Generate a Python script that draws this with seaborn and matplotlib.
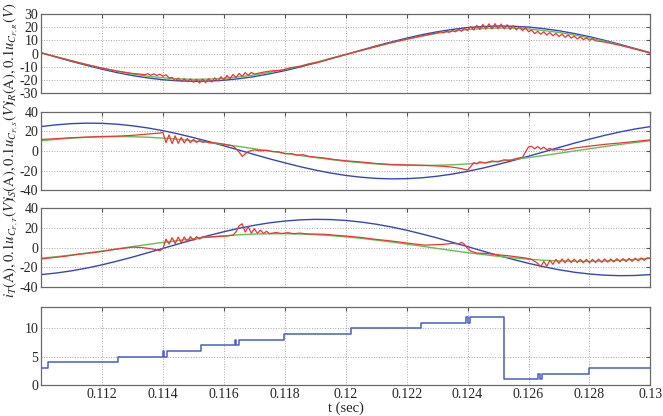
import matplotlib
matplotlib.use("Agg")
import matplotlib.pyplot as plt
import pandas as pd
import seaborn as sns

# smooth curves (blue = current, green = scaled filter voltage), sampled every 0.5 ms
t_ms = [0.1100, 0.1105, 0.1110, 0.1115, 0.1120, 0.1125, 0.1130, 0.1135, 0.1140, 0.1145,
        0.1150, 0.1155, 0.1160, 0.1165, 0.1170, 0.1175, 0.1180, 0.1185, 0.1190, 0.1195,
        0.1200, 0.1205, 0.1210, 0.1215, 0.1220, 0.1225, 0.1230, 0.1235, 0.1240, 0.1245,
        0.1250, 0.1255, 0.1260, 0.1265, 0.1270, 0.1275, 0.1280, 0.1285, 0.1290, 0.1295,
        0.1300]

blue_R = [0.7, -2.6, -5.9, -8.9, -11.8, -14.4, -16.6, -18.4, -19.8, -20.6, -21.0, -20.8,
          -20.2, -19.0, -17.4, -15.3, -12.9, -10.1, -7.1, -3.9, -0.7, 2.6, 5.9, 8.9, 11.8,
          14.4, 16.6, 18.4, 19.8, 20.6, 21.0, 20.8, 20.2, 19.0, 17.4, 15.3, 12.9, 10.1, 7.1,
          3.9, 0.7]
green_R = [0.6, -2.4, -5.4, -8.3, -11.0, -13.4, -15.4, -17.1, -18.3, -19.1, -19.5, -19.3,
           -18.7, -17.6, -16.1, -14.2, -12.0, -9.4, -6.6, -3.6, -0.6, 2.4, 5.4, 8.3, 11.0,
           13.4, 15.4, 17.1, 18.3, 19.1, 19.5, 19.3, 18.7, 17.6, 16.1, 14.2, 12.0, 9.4, 6.6,
           3.6, 0.6]

blue_S = [25.0, 26.8, 28.0, 28.5, 28.3, 27.4, 25.8, 23.6, 20.8, 17.5, 13.7, 9.7, 5.3, 0.9,
          -3.6, -8.0, -12.1, -16.0, -19.5, -22.5, -25.0, -26.8, -28.0, -28.5, -28.3, -27.4,
          -25.8, -23.6, -20.8, -17.5, -13.7, -9.7, -5.3, -0.9, 3.6, 8.0, 12.1, 16.0, 19.5,
          22.5, 25.0]
green_S = [10.5, 12.0, 13.2, 14.1, 14.6, 14.8, 14.6, 14.1, 13.2, 12.0, 10.5, 8.7, 6.7, 4.6,
           2.3, 0.0, -2.3, -4.6, -6.7, -8.7, -10.5, -12.0, -13.2, -14.1, -14.6, -14.8, -14.6,
           -14.1, -13.2, -12.0, -10.5, -8.7, -6.7, -4.6, -2.3, 0.0, 2.3, 4.6, 6.7, 8.7, 10.5]

blue_T = [-27.4, -25.8, -23.6, -20.8, -17.5, -13.7, -9.7, -5.3, -0.9, 3.6, 8.0, 12.1, 16.0,
          19.5, 22.5, 25.0, 26.8, 28.0, 28.5, 28.3, 27.4, 25.8, 23.6, 20.8, 17.5, 13.7, 9.7,
          5.3, 0.9, -3.6, -8.0, -12.1, -16.0, -19.5, -22.5, -25.0, -26.8, -28.0, -28.5, -28.3,
          -27.4]
green_T = [-10.8, -9.3, -7.5, -5.6, -3.5, -1.3, 0.9, 3.1, 5.2, 7.1, 8.9, 10.5, 11.8, 12.9,
           13.6, 13.9, 14.0, 13.7, 13.0, 12.1, 10.8, 9.3, 7.5, 5.6, 3.5, 1.3, -0.9, -3.1, -5.2,
           -7.1, -8.9, -10.5, -11.8, -12.9, -13.6, -13.9, -14.0, -13.7, -13.0, -12.1, -10.8]

# red traces with switching ripple, (t, value)
red_R = [(0.1100, 0.6), (0.1105, -2.4), (0.1110, -5.4), (0.1115, -8.3), (0.1120, -11.0),
         (0.1125, -13.2), (0.1130, -15.0), (0.1132, -15.4),
         (0.1134, -16.0), (0.1135, -15.2), (0.1136, -16.4), (0.1137, -15.3), (0.1138, -16.6),
         (0.1139, -15.6), (0.1140, -17.2), (0.1141, -16.0), (0.1142, -18.5), (0.1143, -18.0),
         (0.1144, -20.5), (0.1145, -18.6), (0.1146, -21.0), (0.1147, -19.0), (0.1148, -21.3),
         (0.1149, -19.2), (0.1150, -21.8), (0.1151, -19.4), (0.1152, -22.3), (0.1153, -19.3),
         (0.1154, -22.0), (0.1155, -19.0), (0.1156, -21.5), (0.1157, -18.4), (0.1158, -20.8),
         (0.1159, -17.6), (0.1160, -20.0), (0.1161, -16.6), (0.1162, -19.0), (0.1163, -15.8),
         (0.1164, -18.0), (0.1165, -15.0), (0.1166, -17.2), (0.1167, -14.4), (0.1168, -16.4),
         (0.1169, -14.2), (0.1170, -15.5),
         (0.1173, -14.0), (0.1176, -13.0), (0.1179, -12.6), (0.1182, -10.6), (0.1185, -9.8),
         (0.1188, -7.8), (0.1191, -6.6), (0.1195, -3.8), (0.1200, -0.6), (0.1205, 2.4),
         (0.1210, 5.4), (0.1215, 8.4), (0.1220, 11.0), (0.1225, 13.4), (0.1228, 15.0),
         (0.1230, 15.8), (0.1231, 16.6), (0.1232, 15.9), (0.1233, 17.0), (0.1234, 16.2),
         (0.1235, 17.6), (0.1236, 16.6), (0.1237, 18.4), (0.1238, 17.0), (0.1239, 19.2),
         (0.1240, 17.6), (0.1241, 20.5), (0.1242, 18.0), (0.1243, 21.5), (0.1244, 18.4),
         (0.1245, 22.2), (0.1246, 18.6), (0.1247, 22.6), (0.1248, 18.8), (0.1249, 22.8),
         (0.1250, 18.9), (0.1251, 22.5), (0.1252, 18.8), (0.1253, 22.0), (0.1254, 18.4),
         (0.1255, 21.3), (0.1256, 18.0), (0.1257, 20.6), (0.1258, 17.4), (0.1259, 19.8),
         (0.1260, 16.6), (0.1261, 18.0), (0.1262, 15.2), (0.1263, 17.0), (0.1264, 14.8),
         (0.1265, 16.6), (0.1266, 14.2), (0.1267, 16.0), (0.1268, 13.6), (0.1269, 15.4),
         (0.1270, 13.0), (0.1271, 14.8), (0.1272, 12.4), (0.1273, 14.2), (0.1274, 11.8),
         (0.1275, 13.4), (0.1276, 11.2), (0.1277, 12.8), (0.1278, 10.6), (0.1279, 12.0),
         (0.1280, 10.2), (0.1281, 11.2), (0.1282, 9.8),
         (0.1285, 8.8), (0.1290, 6.4), (0.1295, 3.5), (0.1300, 0.4)]

red_S = [(0.1100, 11.8), (0.1105, 12.6), (0.1110, 13.6), (0.1115, 14.2), (0.1120, 14.8),
         (0.1125, 15.2), (0.1130, 16.0), (0.1133, 16.8), (0.1136, 17.6), (0.1139, 18.4),
         (0.1140, 19.0), (0.1141, 8.5), (0.1142, 16.5), (0.1143, 7.5), (0.1144, 15.5),
         (0.1145, 7.8), (0.1146, 14.0), (0.1147, 8.2), (0.1148, 12.8), (0.1149, 8.5),
         (0.1150, 11.8), (0.1151, 8.8), (0.1152, 10.8), (0.1153, 9.0), (0.1154, 9.8),
         (0.1155, 8.6), (0.1158, 8.0), (0.1161, 6.4), (0.1163, 5.2), (0.1165, -1.0),
         (0.1166, -5.5), (0.1167, -3.0), (0.1168, -0.5), (0.1170, 1.2), (0.1172, 0.2),
         (0.1174, 0.8), (0.1176, -0.6), (0.1178, -0.8), (0.1180, -2.8), (0.1182, -2.6),
         (0.1184, -4.2), (0.1186, -3.8), (0.1188, -5.6), (0.1190, -6.2), (0.1193, -7.2),
         (0.1196, -8.6), (0.1200, -10.0), (0.1205, -11.2), (0.1210, -12.8), (0.1215, -13.8),
         (0.1220, -14.2), (0.1225, -14.6), (0.1228, -15.0), (0.1232, -15.6), (0.1235, -16.5),
         (0.1238, -18.0), (0.1240, -19.5), (0.1241, -16.0), (0.1242, -12.0), (0.1243, -13.2),
         (0.1244, -11.0), (0.1246, -12.4), (0.1248, -10.2), (0.1250, -11.2), (0.1252, -9.0),
         (0.1254, -9.8), (0.1256, -7.6), (0.1258, -6.5), (0.1259, -1.0), (0.1260, 4.2),
         (0.1261, 4.8), (0.1262, 2.2), (0.1263, 4.6), (0.1264, 1.8), (0.1265, 4.0),
         (0.1266, 1.2), (0.1267, 2.8), (0.1268, 0.8), (0.1270, 1.8), (0.1272, 1.0),
         (0.1275, 3.0), (0.1280, 5.0), (0.1285, 6.8), (0.1290, 8.2), (0.1295, 9.8),
         (0.1300, 11.4)]

red_T = [(0.1100, -11.6), (0.1104, -10.2), (0.1108, -8.8), (0.1112, -7.0), (0.1116, -5.6),
         (0.1120, -4.0), (0.1124, -2.0), (0.1127, -0.8), (0.1130, 0.4), (0.1133, 0.0),
         (0.1136, -1.2), (0.1138, -2.4), (0.1139, -3.2), (0.1140, -1.0), (0.1141, 8.5),
         (0.1142, 3.5), (0.1143, 10.0), (0.1144, 4.0), (0.1145, 10.5), (0.1146, 4.8),
         (0.1147, 10.8), (0.1148, 5.8), (0.1149, 11.0), (0.1150, 7.2), (0.1151, 11.0),
         (0.1152, 8.6), (0.1153, 10.8), (0.1155, 10.6), (0.1158, 11.2), (0.1161, 11.6),
         (0.1163, 12.6), (0.1164, 16.0), (0.1165, 22.0), (0.1166, 24.0), (0.1167, 15.6),
         (0.1168, 21.0), (0.1169, 14.5), (0.1170, 19.0), (0.1171, 14.4), (0.1172, 17.6),
         (0.1173, 14.2), (0.1174, 16.4), (0.1175, 14.0), (0.1177, 15.2), (0.1179, 14.2),
         (0.1181, 15.0), (0.1183, 14.0), (0.1185, 14.6), (0.1187, 13.8), (0.1190, 13.6),
         (0.1193, 13.4), (0.1196, 12.6), (0.1200, 11.6), (0.1205, 10.2), (0.1210, 8.2),
         (0.1215, 6.6), (0.1220, 4.6), (0.1223, 3.4), (0.1226, 2.4), (0.1229, 2.8),
         (0.1232, 3.2), (0.1235, 4.2), (0.1237, 3.6), (0.1238, 5.2), (0.1239, 3.2),
         (0.1240, -1.0), (0.1241, -3.6), (0.1243, -5.6), (0.1246, -6.0), (0.1250, -7.4),
         (0.1253, -8.2), (0.1256, -9.4), (0.1259, -10.6), (0.1261, -12.0), (0.1263, -16.0),
         (0.1264, -19.5), (0.1265, -14.0), (0.1266, -19.0), (0.1267, -13.0), (0.1268, -17.0),
         (0.1269, -12.0), (0.1270, -16.0), (0.1271, -11.6), (0.1272, -15.4), (0.1273, -11.6),
         (0.1274, -15.2), (0.1275, -11.8), (0.1276, -15.2), (0.1277, -12.0), (0.1278, -15.4),
         (0.1279, -12.0), (0.1280, -15.4), (0.1281, -12.0), (0.1282, -15.2), (0.1283, -11.8),
         (0.1284, -15.0), (0.1285, -11.6), (0.1286, -14.8), (0.1287, -11.6), (0.1288, -14.6),
         (0.1289, -11.4), (0.1290, -14.4), (0.1291, -11.2), (0.1292, -14.2), (0.1293, -11.0),
         (0.1294, -14.0), (0.1295, -10.8), (0.1296, -13.6), (0.1297, -10.6), (0.1298, -13.0),
         (0.1299, -10.4), (0.1300, -11.0)]

# bottom panel: stepped signal (t where the level starts, level)
steps = [(0.11000, 3), (0.11023, 4), (0.11252, 5), (0.11400, 6), (0.11405, 5), (0.11412, 6),
         (0.11525, 7), (0.11636, 8), (0.11641, 7), (0.11648, 8), (0.11797, 9), (0.12018, 10),
         (0.12246, 11), (0.12395, 12), (0.12400, 11), (0.12407, 12), (0.12520, 1),
         (0.12632, 2), (0.12637, 1), (0.12644, 2), (0.12797, 3), (0.13000, 3)]

xticks = [0.112, 0.114, 0.116, 0.118, 0.12, 0.122, 0.124, 0.126, 0.128, 0.13]
xtick_labels = ['0.112', '0.114', '0.116', '0.118', '0.12', '0.122', '0.124', '0.126', '0.128', '0.13']

ylabels = [r'$i_R(\mathrm{A}),0.1u_{C_{F,R}}(V)$',
           r'$i_S(\mathrm{A}),0.1u_{C_{F,S}}(V)$',
           r'$i_T(\mathrm{A}),0.1u_{C_{F,T}}(V)$']

sns.set_style("white")
plt.rcParams['font.family'] = ['Liberation Serif', 'DejaVu Serif']
plt.rcParams['mathtext.fontset'] = 'stix'
plt.rcParams['axes.unicode_minus'] = False

BLUE = '#3447b8'
GREEN = '#63c150'
RED = '#ee3535'

fig = plt.figure(figsize=(6.63, 4.16), dpi=100)
W = 0.919
boxes = [(0.062, 0.776, W, 0.190),
         (0.062, 0.543, W, 0.188),
         (0.062, 0.310, W, 0.190),
         (0.062, 0.075, W, 0.187)]
axes = [fig.add_axes(b) for b in boxes]

panels = [(blue_R, green_R, red_R, (-30, 30), [-30, -20, -10, 0, 10, 20, 30]),
          (blue_S, green_S, red_S, (-40, 40), [-40, -20, 0, 20, 40]),
          (blue_T, green_T, red_T, (-40, 40), [-40, -20, 0, 20, 40])]

for ax, (b, g, r, ylim, yt), lab in zip(axes[:3], panels, ylabels):
    smooth = pd.DataFrame({'t': t_ms, 'blue': b, 'green': g})
    rdf = pd.DataFrame(r, columns=['t', 'v'])
    sns.lineplot(data=smooth, x='t', y='blue', color=BLUE, lw=1.0, ax=ax)
    sns.lineplot(data=smooth, x='t', y='green', color=GREEN, lw=1.0, ax=ax)
    sns.lineplot(data=rdf, x='t', y='v', color=RED, lw=0.9, ax=ax,
                 estimator=None, sort=False)
    ax.set_ylim(*ylim)
    ax.set_yticks(yt)
    ax.set_ylabel(lab, fontsize=10.5)
    ax.yaxis.set_label_coords(-0.034, 0.5)

sdf = pd.DataFrame(steps, columns=['t', 'v'])
sns.lineplot(data=sdf, x='t', y='v', color='#4a5ec4', lw=1.1, ax=axes[3],
             estimator=None, sort=False, drawstyle='steps-post')
axes[3].set_ylim(0, 13.8)
axes[3].set_yticks([0, 5, 10])
axes[3].set_ylabel('')

for i, ax in enumerate(axes):
    ax.set_xlim(0.110, 0.130)
    ax.set_xticks(xticks)
    if i < 3:
        ax.set_xticklabels([])
        ax.set_xlabel('')
    else:
        ax.set_xticklabels(xtick_labels)
        ax.set_xlabel('t (sec)', fontsize=10.5, labelpad=1)
    ax.grid(True, ls=':', color='#a8a8a8', lw=0.7)
    ax.tick_params(direction='in', top=True, right=True, length=3,
                   labelsize=10, pad=2, color='#555555')
    for s in ax.spines.values():
        s.set_color('#6a6a6a')
        s.set_linewidth(0.9)

fig.savefig('out.png', dpi=100)
